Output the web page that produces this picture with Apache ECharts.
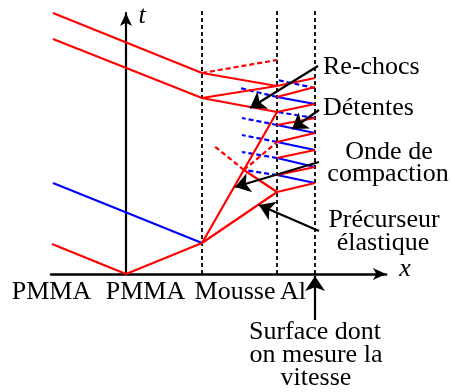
<!DOCTYPE html>
<html>
<head>
<meta charset="utf-8">
<script src="https://cdn.jsdelivr.net/npm/echarts@6/dist/echarts.min.js"></script>
<style>html,body{margin:0;padding:0;background:#fff}#c{width:455px;height:392px}</style>
</head>
<body>
<div id="c"></div>
<script>
// x–t diagram values (x: position, t: time), schematic units
const interfaces = [76, 151, 189];          // PMMA/Mousse, Mousse/Al, free surface
const interfaceTop = 265;

const redSolid = [
  [[0, 0], [-74, 30]],
  [[0, 0], [76, 31]],
  [[76, 31], [151, 162]],
  [[76, 31], [151, 82]],
  [[151, 82], [118, 104]],
  [[151, 82], [189, 91]],
  [[151, 99], [189, 107]],
  [[151, 116], [189, 124]],
  [[151, 132], [189, 141]],
  [[151, 149], [189, 156]],
  [[151, 162], [189, 170]],
  [[151, 177], [189, 187]],
  [[151, 188], [189, 196]],
  [[76, 201], [151, 188]],
  [[76, 176], [151, 188]],
  [[76, 176], [151, 162]],
  [[-73, 261], [76, 201]],
  [[-73, 235], [76, 176]]
];
const redDashed = [
  [[76, 201], [151, 214]],
  [[118, 104], [87, 129]],
  [[118, 104], [151, 132]]
];
const blueSolid = [
  [[76, 31], [-73, 91]],
  [[189, 91], [151, 99]],
  [[189, 107], [151, 116]],
  [[189, 124], [151, 132]],
  [[189, 141], [151, 149]],
  [[189, 170], [151, 177]]
];
const blueDashed = [
  [[151, 99], [118, 104]],
  [[151, 116], [116, 122]],
  [[151, 132], [116, 139]],
  [[151, 149], [116, 156]],
  [[151, 177], [114, 186]],
  [[189, 156], [151, 162]],
  [[189, 186], [151, 194]]
];
const pointerArrows = [
  [[192, 208], [124, 166]],
  [[193, 164], [166, 145]],
  [[193, 112], [109, 87]],
  [[193, 43], [133, 69]],
  [[189, -46], [189, -2]]
];
const materialLabels = ['PMMA', 'PMMA', 'Mousse', 'Al'];
const waveLabels = ['Re-chocs', 'Détentes', 'Onde de', 'compaction', 'Précurseur', 'élastique'];
const surfaceLabel = ['Surface dont', 'on mesure la', 'vitesse'];

const chart = echarts.init(document.getElementById('c'), null, {renderer: 'canvas'});
const FONT = '26px "Liberation Serif", "Times New Roman", serif';
const IFONT = 'italic 26px "Liberation Serif", "Times New Roman", serif';

function seg(list) { return list.map(s => ({coords: s})); }
function linesSeries(list, color, type, width, extra) {
  return Object.assign({
    type: 'lines', coordinateSystem: 'cartesian2d', polyline: false, silent: true,
    clip: false, animation: false,
    lineStyle: {color: color, width: width, type: type, opacity: 1, curveness: 0},
    data: seg(list)
  }, extra || {});
}

const matPos = [[51.5, 292], [145.5, 292], [235, 292], [293, 292]];
const wavePos = [[323, 67, 'left'], [323, 108, 'left'], [389, 152, 'center'], [388, 174, 'center'], [384, 220, 'center'], [383, 243, 'center']];
const surfPos = [[315, 332], [316, 355], [316, 378]];

const graphics = [];
materialLabels.forEach((t, i) => graphics.push({type: 'text', x: matPos[i][0], y: matPos[i][1], style: {text: t, font: FONT, fill: '#000', align: 'center', verticalAlign: 'middle'}}));
waveLabels.forEach((t, i) => graphics.push({type: 'text', x: wavePos[i][0], y: wavePos[i][1], style: {text: t, font: FONT, fill: '#000', align: wavePos[i][2], verticalAlign: 'middle'}}));
surfaceLabel.forEach((t, i) => graphics.push({type: 'text', x: surfPos[i][0], y: surfPos[i][1], style: {text: t, font: FONT, fill: '#000', align: 'center', verticalAlign: 'middle'}}));
graphics.push({type: 'text', x: 142, y: 16, style: {text: 't', font: IFONT, fill: '#000', align: 'center', verticalAlign: 'middle'}});
graphics.push({type: 'text', x: 405, y: 269, style: {text: 'x', font: IFONT, fill: '#000', align: 'center', verticalAlign: 'middle'}});

chart.setOption({
  animation: false,
  grid: {left: 51, right: 69, top: 13, bottom: 118},
  xAxis: {
    type: 'value', min: -75, max: 260,
    axisLine: {show: true, onZero: true, symbol: ['none', 'arrow'], symbolSize: [9, 13], lineStyle: {color: '#000', width: 2.5}},
    axisTick: {show: false}, axisLabel: {show: false}, splitLine: {show: false}
  },
  yAxis: {
    type: 'value', min: 0, max: 261,
    axisLine: {show: true, onZero: true, symbol: ['none', 'arrow'], symbolSize: [9, 13], lineStyle: {color: '#000', width: 2.2}},
    axisTick: {show: false}, axisLabel: {show: false}, splitLine: {show: false}
  },
  series: [
    linesSeries(interfaces.map(x => [[x, 0], [x, interfaceTop]]), '#000', [4, 3], 1.8),
    linesSeries(blueSolid, '#0000ff', 'solid', 2.2),
    linesSeries(blueDashed, '#0000ff', [5, 3], 2.2),
    linesSeries(redSolid, '#ff0000', 'solid', 2.2),
    linesSeries(redDashed, '#ff0000', [5, 3], 2.2),
    linesSeries(pointerArrows, '#000', 'solid', 2.2, {symbol: ['none', 'arrow'], symbolSize: [11, 15]})
  ],
  graphic: graphics
});
</script>
</body>
</html>
